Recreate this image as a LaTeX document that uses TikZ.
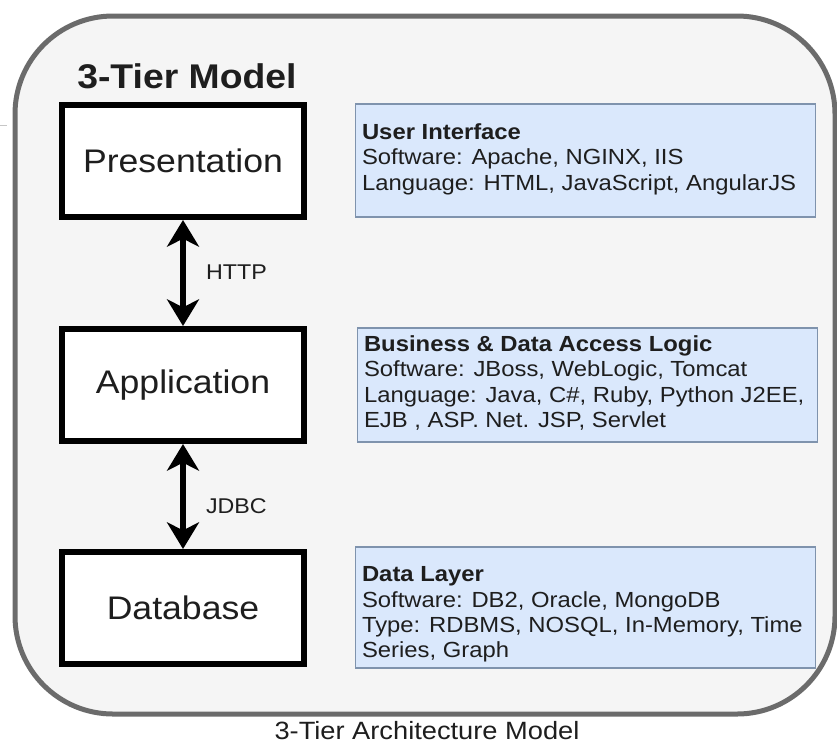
\documentclass[tikz,border=0pt]{standalone}
\usepackage{fontspec}
\setmainfont[FakeStretch=1.09]{Liberation Sans}
\usetikzlibrary{arrows.meta,positioning}

\definecolor{framegray}{HTML}{6B6B6B}
\definecolor{panelgray}{HTML}{F5F5F5}
\definecolor{infofill}{HTML}{DAE8FC}
\definecolor{infoline}{HTML}{7F93AD}
\definecolor{inkgray}{HTML}{1E1E1E}

\tikzset{
  tierbox/.style={draw=black, line width=4.5pt, fill=white, minimum width=181.5pt,
    minimum height=84pt, inner sep=0pt, text=inkgray, font=\fontsize{24.5}{29}\selectfont},
  infobox/.style={draw=infoline, line width=1.1pt, fill=infofill, minimum width=345pt, inner sep=0pt},
  infotext/.style={anchor=north west, inner sep=0pt, align=left, text=inkgray,
    font=\fontsize{16.4}{19.1}\selectfont},
  linkarrow/.style={{Stealth[length=20pt,width=24pt,inset=6pt]}-{Stealth[length=20pt,width=24pt,inset=6pt]},
    line width=4.6pt},
  linklabel/.style={anchor=west, inner sep=0pt, text=inkgray, font=\fontsize{16}{19}\selectfont}
}

\begin{document}
\begin{tikzpicture}[x=0.75pt,y=-0.75pt]
            \useasboundingbox (0,0) rectangle (837,747);

            % Drawing outer frame
            \draw [framegray, line width=3.75pt, fill=panelgray, rounded corners=73.5pt] (15,16) rectangle (835,714);%
            \draw [gray!45, line width=0.75pt] (0,125) -- (7,125);%

            % Title of the frame
            \node [anchor=base west, inner sep=0pt, text=inkgray, font=\fontsize{25.7}{30}\selectfont\bfseries] (title) at (77,88) {3-Tier Model};%

            % Tier boxes
            \node [tierbox] (pres) at (183,161) {Presentation};%
            \node [tierbox] (app) at (183,385) {Application};%
            \node [tierbox] (db) at (183,608) {Database};%

            % Links between tiers
            \draw [linkarrow] (pres) -- (app) node [linklabel, pos=0.49, xshift=15pt] (http) {HTTP};%
            \draw [linkarrow] (app) -- (db) node [linklabel, pos=0.59, xshift=15pt] (jdbc) {JDBC};%

            % Info box User Interface
            \node [infobox, minimum height=84.75pt] (ui) at (585.5,160.5) {};%
            \node [infotext] (uitext) at ([shift={(7,20)}]ui.north west)
              {\textbf{User Interface}\\Software: Apache, NGINX, IIS\\Language: HTML, JavaScript, AngularJS};%

            % Info box Business logic
            \node [infobox, minimum height=85.5pt] (logic) at (587.5,385) {};%
            \node [infotext] (logictext) at ([shift={(7,8)}]logic.north west)
              {\textbf{Business \& Data Access Logic}\\Software: JBoss, WebLogic, Tomcat\\Language: Java, C\#, Ruby, Python J2EE,\\EJB , ASP. Net. JSP, Servlet};%

            % Info box Data Layer
            \node [infobox, minimum height=90.75pt] (data) at (585.5,607.5) {};%
            \node [infotext] (datatext) at ([shift={(7,20)}]data.north west)
              {\textbf{Data Layer}\\Software: DB2, Oracle, MongoDB\\Type: RDBMS, NOSQL, In-Memory, Time\\Series, Graph};%

            % Caption
            \node [text=inkgray, font=\fontsize{18.75}{22}\selectfont] (caption) at (427,731) {3-Tier Architecture Model};%
        \end{tikzpicture}
\end{document}
